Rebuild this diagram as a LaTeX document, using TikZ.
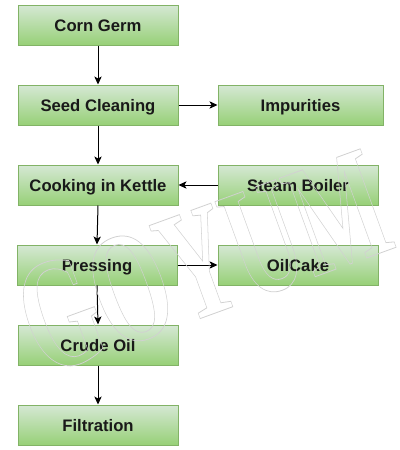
\documentclass[tikz,border=0pt]{standalone}
\usepackage{fontspec}
\setmainfont{Liberation Sans}
\newfontfamily\wmfont{Liberation Serif}
\usetikzlibrary{arrows.meta}
\definecolor{gtop}{HTML}{D5E8D4}
\definecolor{gbot}{HTML}{97D077}
\definecolor{gline}{HTML}{82B366}
\tikzset{
  stepbox/.style={draw=gline, line width=0.75pt, top color=gtop, bottom color=gbot,
    minimum width=120pt, minimum height=30pt, inner sep=0pt, text height=9pt, text depth=0pt,
    font=\fontsize{12.5}{14}\selectfont\bfseries, text=black!90},
  conn/.style={draw=black, line width=0.75pt, -{Stealth[length=6pt,width=5.5pt,inset=1.5pt]}},
}
\begin{document}
\begin{tikzpicture}[x=0.75pt,y=-0.75pt]
\useasboundingbox (0,0) rectangle (400,450);
\fill[white] (0,0) rectangle (400,450);
\node[stepbox] (corn) at (98,25) {Corn Germ};
\node[stepbox] (seed) at (98,105) {Seed Cleaning};
\node[stepbox] (cook) at (98,185) {Cooking in Kettle};
\node[stepbox] (press) at (97,265) {Pressing};
\node[stepbox] (crude) at (98,345) {Crude Oil};
\node[stepbox] (filt) at (98,425) {Filtration};
\node[stepbox, minimum width=123.75pt] (imp) at (300.5,105) {Impurities};
\node[stepbox] (steam) at (298,185) {Steam Boiler};
\node[stepbox] (cake) at (298,265) {OilCake};
\draw[conn] (corn) -- (seed);
\draw[conn] (seed) -- (cook);
\draw[conn] (seed) -- (imp);
\draw[conn] (steam) -- (cook);
\draw[conn] (cook.south) -- (press.north);
\draw[conn] (press) -- (cake);
\draw[conn] (press.south) -- (crude.north);
\draw[conn] (crude) -- (filt);
\node[rotate=20, text=black!18, font=\wmfont\bfseries\fontsize{120}{120}\selectfont, inner sep=0pt] (wm) at (203,262)
  {\scalebox{0.6}[1]{\special{pdf:literal direct 1 Tr 0.6 w}GOYUM\special{pdf:literal direct 0 Tr}}};
\end{tikzpicture}
\end{document}
